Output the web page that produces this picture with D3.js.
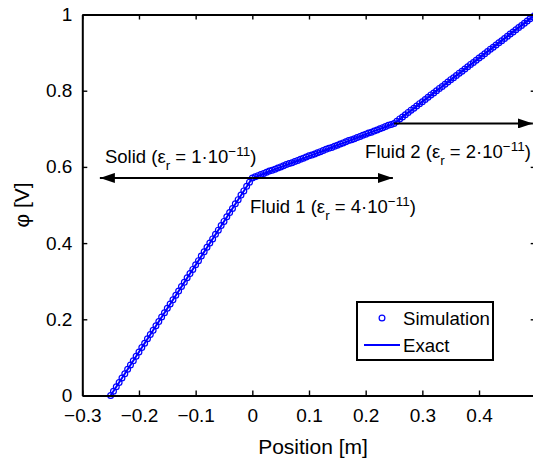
<!DOCTYPE html>
<html>
<head>
<meta charset="utf-8">
<script src="https://cdn.jsdelivr.net/npm/d3@7"></script>
<style>
  html, body { margin: 0; padding: 0; background: #fff; }
  svg { display: block; font-family: "Liberation Sans", Arial, Helvetica, sans-serif; }
</style>
</head>
<body>
<svg id="chart" width="533" height="458"></svg>
<script>
// ---------- data ----------
const xTicks = [-0.3, -0.2, -0.1, 0, 0.1, 0.2, 0.3, 0.4];
const yTicks = [0, 0.2, 0.4, 0.6, 0.8, 1];

// exact solution: piecewise linear break points
const exactX = [-0.25, 0, 0.25, 0.5];
const exactY = [0, 0.571, 0.714, 1.0];

// simulation points
const simX = [
  -0.250,-0.245,-0.240,-0.235,-0.230,-0.225,-0.220,-0.215,-0.210,-0.205,
  -0.200,-0.195,-0.190,-0.185,-0.180,-0.175,-0.170,-0.165,-0.160,-0.155,
  -0.150,-0.145,-0.140,-0.135,-0.130,-0.125,-0.120,-0.115,-0.110,-0.105,
  -0.100,-0.095,-0.090,-0.085,-0.080,-0.075,-0.070,-0.065,-0.060,-0.055,
  -0.050,-0.045,-0.040,-0.035,-0.030,-0.025,-0.020,-0.015,-0.010,-0.005,
  0.000,0.005,0.010,0.015,0.020,0.025,0.030,0.035,0.040,0.045,
  0.050,0.055,0.060,0.065,0.070,0.075,0.080,0.085,0.090,0.095,
  0.100,0.105,0.110,0.115,0.120,0.125,0.130,0.135,0.140,0.145,
  0.150,0.155,0.160,0.165,0.170,0.175,0.180,0.185,0.190,0.195,
  0.200,0.205,0.210,0.215,0.220,0.225,0.230,0.235,0.240,0.245,
  0.250,0.255,0.260,0.265,0.270,0.275,0.280,0.285,0.290,0.295,
  0.300,0.305,0.310,0.315,0.320,0.325,0.330,0.335,0.340,0.345,
  0.350,0.355,0.360,0.365,0.370,0.375,0.380,0.385,0.390,0.395,
  0.400,0.405,0.410,0.415,0.420,0.425,0.430,0.435,0.440,0.445,
  0.450,0.455,0.460,0.465,0.470,0.475,0.480,0.485,0.490,0.495,
  0.500
];
const simY = [
  0.000,0.011,0.023,0.034,0.046,0.057,0.069,0.080,0.091,0.103,
  0.114,0.126,0.137,0.149,0.160,0.171,0.183,0.194,0.206,0.217,
  0.229,0.240,0.251,0.263,0.274,0.286,0.297,0.309,0.320,0.331,
  0.343,0.354,0.366,0.377,0.389,0.400,0.411,0.423,0.434,0.446,
  0.457,0.469,0.480,0.491,0.503,0.514,0.526,0.537,0.549,0.560,
  0.571,0.574,0.577,0.580,0.583,0.586,0.589,0.591,0.594,0.597,
  0.600,0.603,0.606,0.609,0.611,0.614,0.617,0.620,0.623,0.626,
  0.629,0.631,0.634,0.637,0.640,0.643,0.646,0.649,0.651,0.654,
  0.657,0.660,0.663,0.666,0.669,0.671,0.674,0.677,0.680,0.683,
  0.686,0.689,0.691,0.694,0.697,0.700,0.703,0.706,0.709,0.711,
  0.714,0.720,0.726,0.731,0.737,0.743,0.749,0.754,0.760,0.766,
  0.771,0.777,0.783,0.789,0.794,0.800,0.806,0.811,0.817,0.823,
  0.829,0.834,0.840,0.846,0.851,0.857,0.863,0.869,0.874,0.880,
  0.886,0.891,0.897,0.903,0.909,0.914,0.920,0.926,0.931,0.937,
  0.943,0.949,0.954,0.960,0.966,0.971,0.977,0.983,0.989,0.994,
  1.000
];

// annotation arrows (data coordinates) and labels
const arrowFrom = [[0, 0.571], [0, 0.571], [0.25, 0.714]];
const arrowTo   = [[-0.269, 0.571], [0.248, 0.571], [0.495, 0.714]];
const labelParts = [
  ["Solid (ε", "r", " = 1·10", "−11", ")"],
  ["Fluid 1 (ε", "r", " = 4·10", "−11", ")"],
  ["Fluid 2 (ε", "r", " = 2·10", "−11", ")"]
];
const labelAt = [[-0.260, 0.61], [-0.004, 0.478], [0.199, 0.623]];

const legendNames = ["Simulation", "Exact"];
const xTitle = "Position [m]";
const yTitle = "φ [V]";

// ---------- drawing ----------
const svg = d3.select("#chart");
const W = 533, H = 458;
svg.append("rect").attr("width", W).attr("height", H).attr("fill", "#fff");

const x = d3.scaleLinear().domain([-0.3, 0.5]).range([82.3, 535.7]);
const y = d3.scaleLinear().domain([0, 1]).range([395.5, 14.5]);
const blue = "#0000ff";
const FONT = '"Liberation Sans", Arial, Helvetica, sans-serif';

const fmt = v => (v < 0 ? "\u2212" + Math.abs(v) : String(v));

// data: simulation circles
const sim = simX.map((v, i) => [v, simY[i]]);
svg.append("g").selectAll("circle").data(sim).join("circle")
  .attr("cx", d => x(d[0])).attr("cy", d => y(d[1])).attr("r", 2.9)
  .attr("fill", "none").attr("stroke", blue).attr("stroke-width", 1.2);

// exact line
const exact = exactX.map((v, i) => [v, exactY[i]]);
svg.append("path").datum(exact)
  .attr("d", d3.line().x(d => x(d[0])).y(d => y(d[1])))
  .attr("fill", "none").attr("stroke", blue).attr("stroke-width", 2);

// axes
function styleAxis(g) {
  g.select(".domain").attr("stroke", "#000").attr("stroke-width", 2).attr("fill", "none");
  g.selectAll(".tick line").attr("stroke", "#000").attr("stroke-width", 1.4);
  g.selectAll(".tick text").attr("fill", "#000").attr("font-size", 19).attr("font-family", FONT);
}
svg.append("g").attr("transform", `translate(0,${y(0)})`)
  .call(d3.axisBottom(x).tickValues(xTicks).tickFormat(fmt).tickSizeInner(-5).tickSizeOuter(0).tickPadding(13))
  .call(styleAxis);
svg.append("g").attr("transform", `translate(0,${y(1)})`)
  .call(d3.axisTop(x).tickValues(xTicks).tickFormat("").tickSizeInner(-5).tickSizeOuter(0))
  .call(styleAxis);
svg.append("g").attr("transform", `translate(${x(-0.3)},0)`)
  .call(d3.axisLeft(y).tickValues(yTicks).tickFormat(fmt).tickSizeInner(-5).tickSizeOuter(0).tickPadding(10))
  .call(styleAxis);
svg.append("g").attr("transform", `translate(${x(0.5)},0)`)
  .call(d3.axisRight(y).tickValues(yTicks).tickFormat("").tickSizeInner(-5).tickSizeOuter(0))
  .call(styleAxis);

// arrows
const defs = svg.append("defs");
defs.append("marker").attr("id", "ah").attr("viewBox", "0 0 15 10")
  .attr("refX", 15).attr("refY", 5).attr("markerWidth", 15).attr("markerHeight", 10)
  .attr("markerUnits", "userSpaceOnUse").attr("orient", "auto")
  .append("path").attr("d", "M0,0 L15,5 L0,10 Z").attr("fill", "#000");

svg.append("g").selectAll("line").data(arrowFrom).join("line")
  .attr("x1", d => x(d[0])).attr("y1", d => y(d[1]))
  .attr("x2", (d, i) => x(arrowTo[i][0])).attr("y2", (d, i) => y(arrowTo[i][1]))
  .attr("stroke", "#000").attr("stroke-width", 2).attr("marker-end", "url(#ah)");

// labels
labelParts.forEach((parts, i) => {
  const t = svg.append("text").attr("x", x(labelAt[i][0])).attr("y", y(labelAt[i][1]))
    .attr("font-size", 18.5).attr("fill", "#000");
  t.append("tspan").text(parts[0]);
  t.append("tspan").attr("dy", 7).attr("font-size", 13.5).text(parts[1]);
  t.append("tspan").attr("dy", -7).text(parts[2]);
  t.append("tspan").attr("dy", -7).attr("font-size", 13.5).text(parts[3]);
  t.append("tspan").attr("dy", 7).text(parts[4]);
});

// axis titles
svg.append("text").attr("x", 313).attr("y", 454).attr("text-anchor", "middle")
  .attr("font-size", 21).attr("fill", "#000").text(xTitle);
svg.append("text").attr("transform", "translate(29,205) rotate(-90)").attr("text-anchor", "middle")
  .attr("font-size", 21).attr("fill", "#000").text(yTitle);

// legend
const lg = svg.append("g");
lg.append("rect").attr("x", 357).attr("y", 302).attr("width", 136).attr("height", 58)
  .attr("fill", "#fff").attr("stroke", "#000").attr("stroke-width", 2);
lg.append("circle").attr("cx", 382).attr("cy", 318).attr("r", 2.9)
  .attr("fill", "none").attr("stroke", blue).attr("stroke-width", 1.2);
lg.append("line").attr("x1", 364).attr("x2", 400).attr("y1", 345).attr("y2", 345)
  .attr("stroke", blue).attr("stroke-width", 2);
lg.selectAll("text").data(legendNames).join("text")
  .attr("x", 403).attr("y", (d, i) => 325 + i * 27)
  .attr("font-size", 18.6).attr("fill", "#000").text(d => d);
</script>
</body>
</html>
